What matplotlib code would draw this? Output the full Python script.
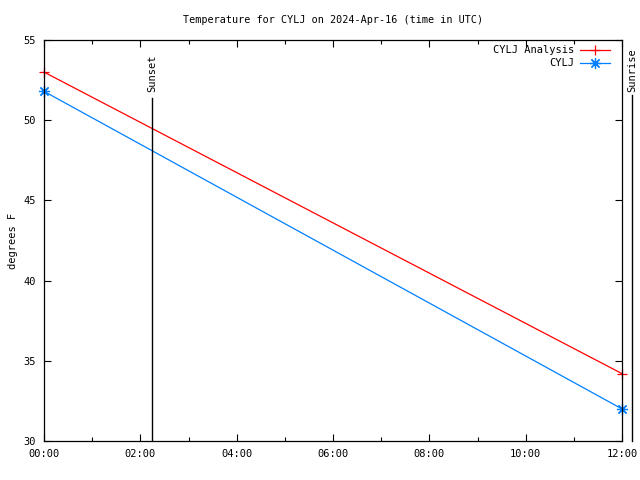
import matplotlib.pyplot as plt
from matplotlib.lines import Line2D

plt.rcParams['font.family'] = 'DejaVu Sans Mono'
plt.rcParams['font.size'] = 7.5

hours = [0, 12]
analysis = [53.0, 34.2]
obs = [51.8, 32.0]
tick_hours = [0, 2, 4, 6, 8, 10, 12]
tick_labels = ['00:00', '02:00', '04:00', '06:00', '08:00', '10:00', '12:00']
sunset = 2.24
sunrise = 12.21

star = (8, 2, 0)

fig = plt.figure(figsize=(6.4, 4.8), dpi=100)
ax = fig.add_axes([44 / 640, 1 - 441 / 480, 578 / 640, 401 / 480])

ax.plot(hours, analysis, color='#ff0000', lw=0.9, marker='+', ms=7, mew=0.9,
        clip_on=False)
ax.plot(hours, obs, color='#0080ff', lw=0.9, marker=star, ms=8, mew=0.9,
        clip_on=False)

ax.set_xlim(0, 12)
ax.set_ylim(30, 55)
ax.set_xticks(tick_hours)
ax.set_xticklabels(tick_labels)
ax.set_xticks(range(0, 13), minor=True)
ax.set_yticks([30, 35, 40, 45, 50, 55])
ax.tick_params(direction='in', top=True, right=True, length=5, width=0.8, which='major', pad=6)
ax.tick_params(direction='in', top=True, right=True, length=3, width=0.8, which='minor')
for s in ax.spines.values():
    s.set_linewidth(0.9)

ax.set_ylabel('degrees F')
ax.set_title('Temperature for CYLJ on 2024-Apr-16 (time in UTC)', fontsize=7.3, pad=12)

# sunset / sunrise markers
ax.plot([sunset, sunset], [30, 51.4], color='black', lw=1)
ax.text(sunset, 51.75, 'Sunset', rotation=90, ha='center', va='bottom')
ax.plot([sunrise, sunrise], [30, 51.6], color='black', lw=1, clip_on=False)
ax.text(sunrise, 51.75, 'Sunrise', rotation=90, ha='center', va='bottom')

handles = [Line2D([], [], color='#ff0000', lw=0.9, marker='+', ms=7, mew=0.9),
           Line2D([], [], color='#0080ff', lw=0.9, marker=star, ms=8, mew=0.9)]
leg = ax.legend(handles, ['CYLJ Analysis', 'CYLJ'], loc='upper right', frameon=False,
                bbox_to_anchor=(0.988, 1.0),
                markerfirst=False, handlelength=2.9, handletextpad=0.5,
                borderaxespad=0.2, borderpad=0.3, labelspacing=0.3)

fig.savefig('out.png', dpi=100)
